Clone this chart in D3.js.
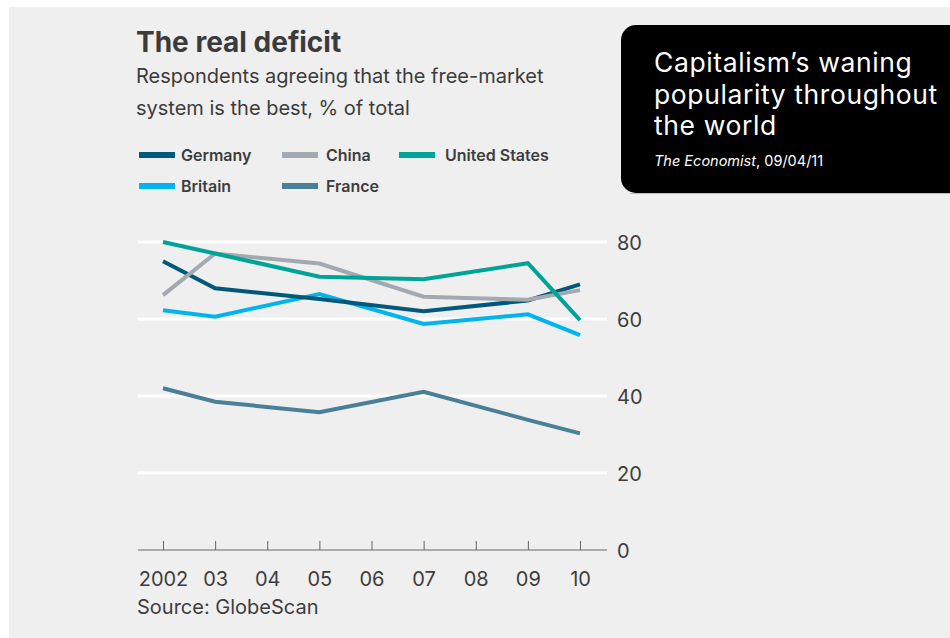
<!DOCTYPE html>
<html>
<head>
<meta charset="utf-8">
<script src="https://cdn.jsdelivr.net/npm/d3@7"></script>
<style>
  html, body { margin: 0; padding: 0; background: #fff; }
  svg { display: block; }
</style>
</head>
<body>
<script>
// data
const years = [2002, 2003, 2005, 2007, 2009, 2010];
const germany = [75, 68, 65.2, 62, 64.8, 69];
const china = [66.2, 77, 74.4, 65.8, 65, 67.5];
const unitedStates = [80, 77, 71, 70.3, 74.5, 59.7];
const britain = [62.3, 60.6, 66.5, 58.7, 61.2, 55.8];
const france = [42, 38.5, 35.8, 41.1, 33.8, 30.3];

const tickYears = [2002, 2003, 2004, 2005, 2006, 2007, 2008, 2009, 2010];
const tickYearLabels = ["2002", "03", "04", "05", "06", "07", "08", "09", "10"];
const yTicks = [0, 20, 40, 60, 80];

const series = [
  {name: "Germany", values: germany, color: "#00587a"},
  {name: "China", values: china, color: "#a2a9b0"},
  {name: "United States", values: unitedStates, color: "#00a497"},
  {name: "Britain", values: britain, color: "#00b5ef"},
  {name: "France", values: france, color: "#4a7f98"}
];
// draw order: France, Britain, Germany, China, US on top
const drawOrder = ["France", "Britain", "Germany", "China", "United States"];

const w = 950, h = 638;
const font = "Inter, 'Noto Sans', sans-serif";

const svg = d3.select("body").append("svg")
  .attr("width", w)
  .attr("height", h)
  .attr("viewBox", [0, 0, w, h]);

// grey panel
svg.append("rect")
  .attr("x", 9).attr("y", 7)
  .attr("width", w - 9).attr("height", h - 7)
  .attr("fill", "#efefef");

// scales
const x = d3.scaleLinear().domain([2002, 2010]).range([163, 580]);
const y = d3.scaleLinear().domain([0, 80]).range([550, 242]);
const gridX0 = 138, gridX1 = 607;

// gridlines
svg.append("g")
  .selectAll("line")
  .data(yTicks.filter(d => d > 0))
  .join("line")
  .attr("x1", gridX0).attr("x2", gridX1)
  .attr("y1", d => y(d)).attr("y2", d => y(d))
  .attr("stroke", "#fff")
  .attr("stroke-width", 3);

// y labels on the right
const yAxis = d3.axisRight(y).tickValues(yTicks).tickSize(0).tickPadding(0);
svg.append("g")
  .attr("transform", `translate(617,0)`)
  .call(yAxis)
  .call(g => g.select(".domain").remove())
  .call(g => g.selectAll("text")
    .attr("x", 0)
    .attr("dy", "0.36em")
    .attr("fill", "#3d3d3d")
    .style("font-family", font)
    .style("font-size", "20px"));

// x axis
svg.append("line")
  .attr("x1", gridX0).attr("x2", gridX1)
  .attr("y1", y(0)).attr("y2", y(0))
  .attr("stroke", "#666").attr("stroke-width", 1);

const xAxis = d3.axisBottom(x)
  .tickValues(tickYears)
  .tickFormat((d, i) => tickYearLabels[i])
  .tickSizeInner(-9)
  .tickSizeOuter(0)
  .tickPadding(16);
svg.append("g")
  .attr("transform", `translate(0,${y(0)})`)
  .call(xAxis)
  .call(g => g.select(".domain").remove())
  .call(g => g.selectAll(".tick line").attr("stroke", "#666"))
  .call(g => g.selectAll("text")
    .attr("y", 36)
    .attr("dy", 0)
    .attr("fill", "#3d3d3d")
    .style("font-family", font)
    .style("font-size", "20px"));

// lines
const line = d3.line()
  .x((d, i) => x(years[i]))
  .y(d => y(d));

svg.append("g")
  .selectAll("path")
  .data(drawOrder.map(n => series.find(s => s.name === n)))
  .join("path")
  .attr("d", d => line(d.values))
  .attr("fill", "none")
  .attr("stroke", d => d.color)
  .attr("stroke-width", 4)
  .attr("stroke-linejoin", "miter");

// title + subtitle
svg.append("text")
  .attr("x", 136).attr("y", 52)
  .attr("fill", "#3b3b3b")
  .style("font-family", font)
  .style("font-weight", 700)
  .style("font-size", "28px")
  .text("The real deficit");

svg.append("text")
  .attr("x", 136).attr("y", 83)
  .attr("fill", "#3b3b3b")
  .style("font-family", font)
  .style("font-size", "20px")
  .text("Respondents agreeing that the free-market");
svg.append("text")
  .attr("x", 136).attr("y", 115)
  .attr("fill", "#3b3b3b")
  .style("font-family", font)
  .style("font-size", "20px")
  .text("system is the best, % of total");

// legend
const legendPos = {
  "Germany": [139, 155], "China": [282, 155], "United States": [399, 155],
  "Britain": [139, 186], "France": [282, 186]
};
const leg = svg.append("g")
  .selectAll("g")
  .data(series)
  .join("g")
  .attr("transform", d => `translate(${legendPos[d.name][0]},${legendPos[d.name][1]})`);
leg.append("rect")
  .attr("x", 0).attr("y", -3)
  .attr("width", 36).attr("height", 6)
  .attr("fill", d => d.color);
leg.append("text")
  .attr("x", d => d.name === "United States" ? 46 : (d.name === "China" || d.name === "France" ? 44 : 42))
  .attr("y", 0)
  .attr("dy", "0.36em")
  .attr("fill", "#3d3d3d")
  .style("font-family", font)
  .style("font-weight", 600)
  .style("font-size", "16px")
  .text(d => d.name);

// source
svg.append("text")
  .attr("x", 137).attr("y", 614)
  .attr("fill", "#3d3d3d")
  .style("font-family", font)
  .style("font-size", "20px")
  .text("Source: GlobeScan");

// black caption box
svg.append("rect")
  .attr("x", 621).attr("y", 25)
  .attr("width", 360).attr("height", 168)
  .attr("rx", 15)
  .attr("fill", "#000");
svg.append("line")
  .attr("x1", 630).attr("x2", w)
  .attr("y1", 193.5).attr("y2", 193.5)
  .attr("stroke", "#bbb").attr("stroke-width", 1);

const capLines = ["Capitalism’s waning", "popularity throughout", "the world"];
svg.append("g")
  .selectAll("text")
  .data(capLines)
  .join("text")
  .attr("x", 654)
  .attr("y", (d, i) => 72 + i * 31.5)
  .attr("fill", "#fff")
  .style("font-family", font)
  .style("font-size", "26.5px")
  .style("letter-spacing", "0.6px")
  .text(d => d);

const cite = svg.append("text")
  .attr("x", 654).attr("y", 166)
  .attr("fill", "#fff")
  .style("font-family", font)
  .style("font-size", "14.5px");
cite.append("tspan").style("font-style", "italic").text("The Economist");
cite.append("tspan").text(", 09/04/11");
</script>
</body>
</html>
